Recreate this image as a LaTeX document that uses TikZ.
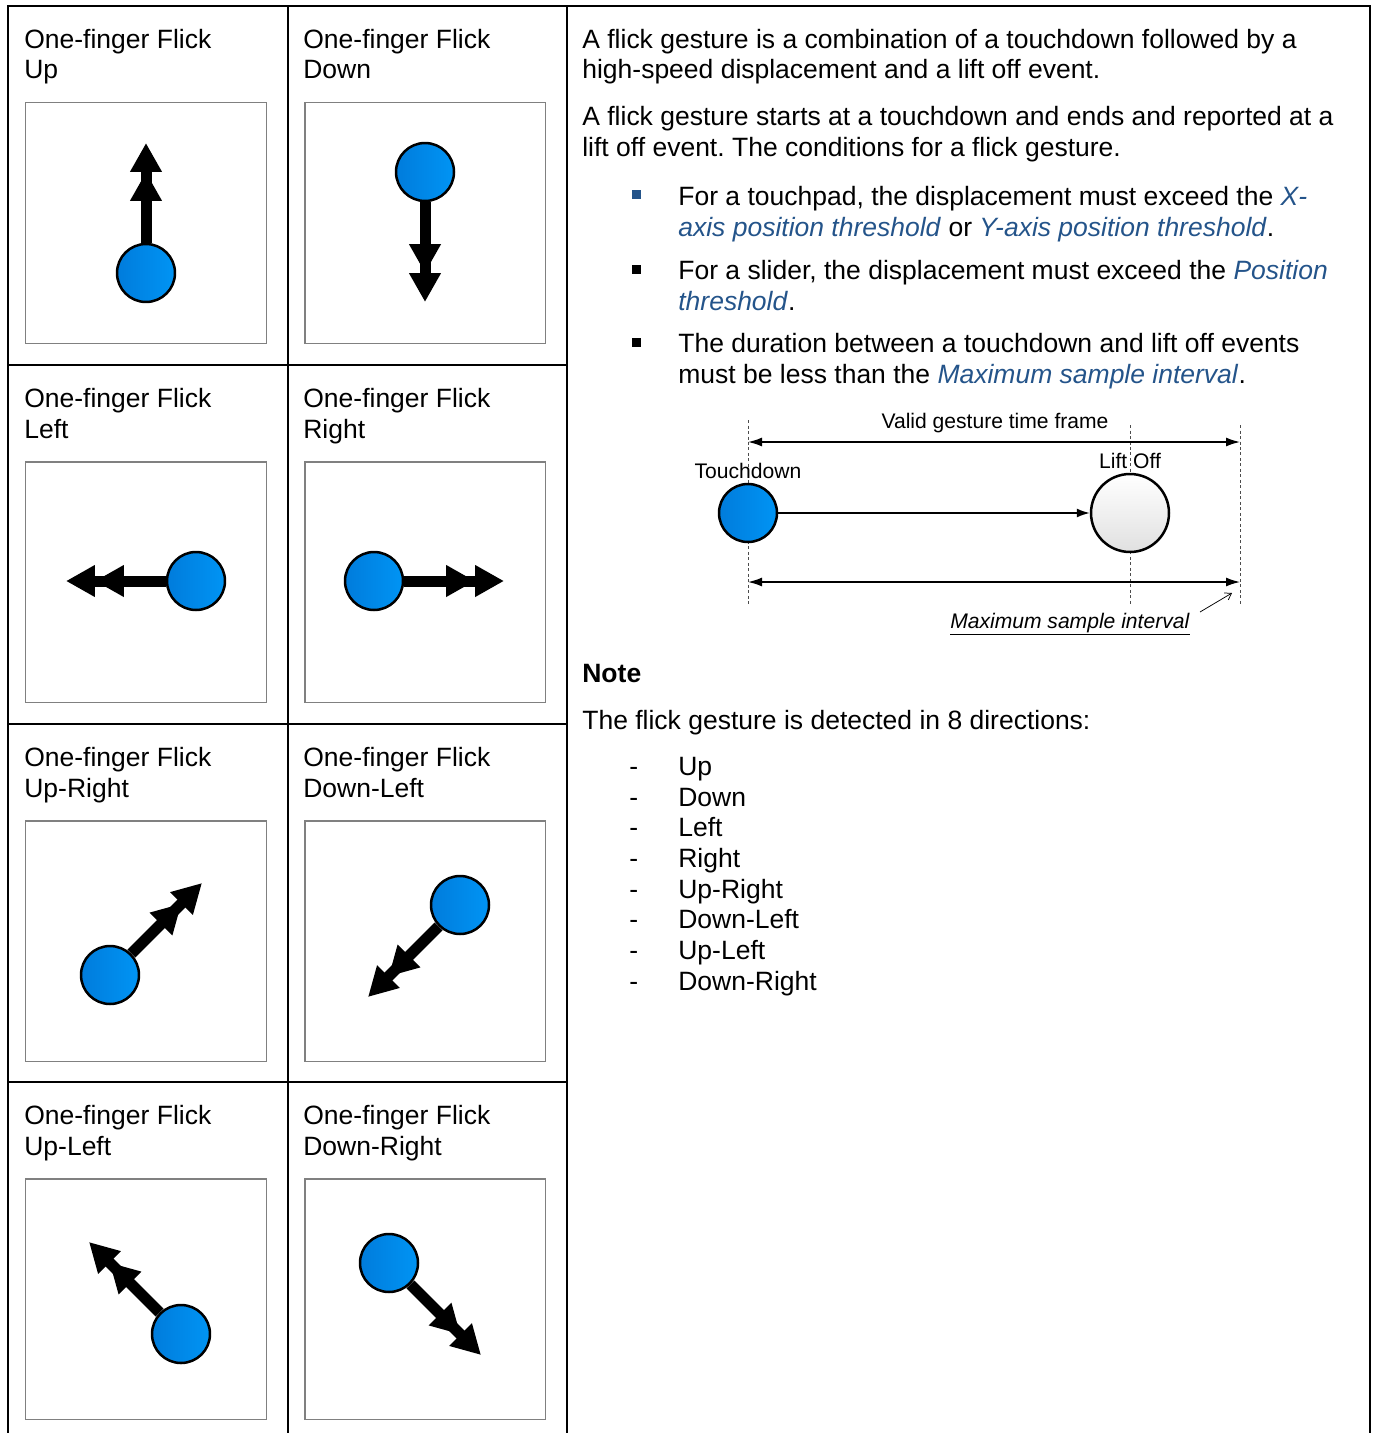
\documentclass[tikz,border=0pt]{standalone}
\usepackage{fontspec}
\setmainfont{Liberation Sans}[Ligatures=CommonOff]
\usepackage{tikz}
\usetikzlibrary{positioning,arrows.meta}
\usepackage{xcolor}
\definecolor{linkblue}{RGB}{36,84,138}
\definecolor{padgray}{RGB}{128,128,128}
\definecolor{fingerL}{RGB}{0,124,220}
\definecolor{fingerR}{RGB}{0,148,244}
\newcommand{\lnk}[1]{\textcolor{linkblue}{\textit{#1}}}
\newcommand{\bodyfont}{\fontsize{15.08}{17.45}\selectfont}
\newcommand{\smallfont}{\fontsize{12}{14}\selectfont}
\frenchspacing

\begin{document}
\begin{tikzpicture}[x=0.02cm,y=-0.02cm,
  tbl/.style={line width=0.04cm},
  txt/.style={anchor=base west,align=left,inner sep=0pt,font=\bodyfont},
  pad/.style={draw=padgray,line width=0.03cm,minimum size=4.82cm,inner sep=0pt,anchor=north west},
  finger/.style={circle,draw,line width=0.05cm,minimum size=1.16cm,inner sep=0pt,left color=fingerL,right color=fingerR},
  flick/.style={line width=0.22cm,-{Triangle[length=0.58cm,width=0.6cm,sep=0pt]Triangle[length=0.58cm,width=0.6cm]}},
  guide/.style={line width=0.02cm,dash pattern=on 0.06cm off 0.05cm,black!70},
  span/.style={line width=0.03cm,{Latex[length=0.28cm,width=0.18cm]}-{Latex[length=0.28cm,width=0.18cm]}},
  lbl/.style={anchor=base,inner sep=0pt,font=\smallfont}]
\useasboundingbox (0,0) rectangle (1374,1433);

% table frame
\draw[tbl] (8,1433) -- (8,6) -- (1370,6) -- (1370,1433);
\draw[tbl] (288,6) -- (288,1433);
\draw[tbl] (567,6) -- (567,1433);
\draw[tbl] (8,365) -- (567,365);
\draw[tbl] (8,724) -- (567,724);
\draw[tbl] (8,1082) -- (567,1082);

% gesture cells (multi-line nodes sit on their last baseline)
\node[txt] (h1) at (24,79) {One-finger Flick\\Up};
\node[txt] (h2) at (303,79) {One-finger Flick\\Down};
\node[txt] (h3) at (24,438) {One-finger Flick\\Left};
\node[txt] (h4) at (303,438) {One-finger Flick\\Right};
\node[txt] (h5) at (24,797) {One-finger Flick\\Up-Right};
\node[txt] (h6) at (303,797) {One-finger Flick\\Down-Left};
\node[txt] (h7) at (24,1155) {One-finger Flick\\Up-Left};
\node[txt] (h8) at (303,1155) {One-finger Flick\\Down-Right};

\node[pad] (p1) at (25,102) {};
\node[pad] (p2) at (304,102) {};
\node[pad] (p3) at (25,461) {};
\node[pad] (p4) at (304,461) {};
\node[pad] (p5) at (25,820) {};
\node[pad] (p6) at (304,820) {};
\node[pad] (p7) at (25,1178) {};
\node[pad] (p8) at (304,1178) {};

\node[finger] (c1) at (146,273) {};
\node[finger] (c2) at (425,172) {};
\node[finger] (c3) at (196,581) {};
\node[finger] (c4) at (374,581) {};
\node[finger] (c5) at (110,975) {};
\node[finger] (c6) at (460,905) {};
\node[finger] (c7) at (181,1334) {};
\node[finger] (c8) at (389,1263) {};
\coordinate (t1) at (146,143);
\coordinate (t2) at (425,302);
\coordinate (t3) at (66,581);
\coordinate (t4) at (504,581);
\coordinate (t5) at (202,883);
\coordinate (t6) at (368,997);
\coordinate (t7) at (89,1242);
\coordinate (t8) at (481,1355);
\draw[flick] (c1) -- (t1);
\draw[flick] (c2) -- (t2);
\draw[flick] (c3) -- (t3);
\draw[flick] (c4) -- (t4);
\draw[flick] (c5) -- (t5);
\draw[flick] (c6) -- (t6);
\draw[flick] (c7) -- (t7);
\draw[flick] (c8) -- (t8);

% description
\node[txt] (d1) at (582,79) {A flick gesture is a combination of a touchdown followed by a\\high-speed displacement and a lift off event.};
\node[txt] (d2) at (582,156) {A flick gesture starts at a touchdown and ends and reported at a\\lift off event. The conditions for a flick gesture.};
\fill[linkblue] (632,190) rectangle (641,199);
\fill (632,265) rectangle (641,274);
\fill (632,338) rectangle (641,347);
\node[txt] (b1) at (678,236) {For a touchpad, the displacement must exceed the \lnk{X-}\\\lnk{axis position threshold} or \lnk{Y-axis position threshold}.};
\node[txt] (b2) at (678,310) {For a slider, the displacement must exceed the \lnk{Position}\\\lnk{threshold}.};
\node[txt] (b3) at (678,383) {The duration between a touchdown and lift off events\\must be less than the \lnk{Maximum sample interval}.};

% time frame sketch
\draw[guide] (748,420) -- (748,605);
\draw[guide] (1130,425) -- (1130,605);
\draw[guide] (1240,425) -- (1240,605);
\coordinate (fa) at (748,442);
\coordinate (fb) at (1240,442);
\coordinate (ma) at (748,582);
\coordinate (mb) at (1240,582);
\draw[span] (fa) -- (fb);
\draw[span] (ma) -- (mb);
\node[lbl] (vf) at (995,428) {Valid gesture time frame};
\node[finger] (td) at (748,513) {};
\node[circle,draw,line width=0.05cm,minimum size=1.56cm,inner sep=0pt,top color=white,bottom color=black!12] (lo) at (1130,513) {};
\draw[line width=0.03cm,-{Latex[length=0.26cm,width=0.18cm]}] (td) -- (lo);
\node[lbl] (tdl) at (748,478) {Touchdown};
\node[lbl] (lol) at (1130,468) {Lift Off};
\node[lbl] (msi) at (1070,628) {\underline{\textit{Maximum sample interval}}};
\coordinate (pa) at (1200,612);
\coordinate (pb) at (1232,593);
\draw[line width=0.015cm,-{Straight Barb[length=0.12cm,width=0.16cm]}] (pa) -- (pb);

% note
\node[txt,font=\bodyfont\bfseries] (nt) at (582,682) {Note};
\node[txt] (nd) at (582,729) {The flick gesture is detected in 8 directions:};
\node[txt] (dash) at (629,990) {-\\-\\-\\-\\-\\-\\-\\-};
\node[txt] (dirs) at (678,990) {Up\\Down\\Left\\Right\\Up-Right\\Down-Left\\Up-Left\\Down-Right};
\end{tikzpicture}
\end{document}
